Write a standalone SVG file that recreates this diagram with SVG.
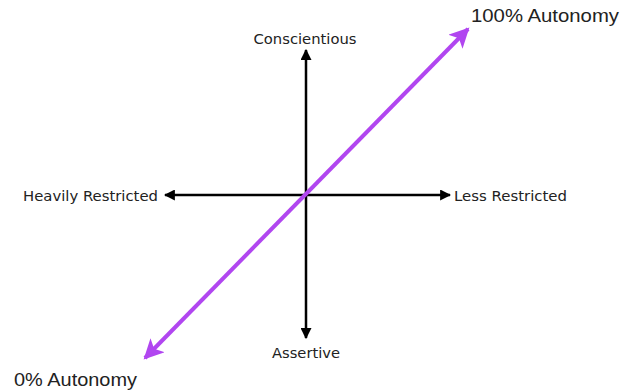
<svg xmlns="http://www.w3.org/2000/svg" width="631" height="392" viewBox="0 0 631 392">
<defs>
<style>
.ax{stroke:#000;stroke-width:2.5;fill:none}
.pu{stroke:#B146F0;stroke-width:4;fill:none}
.lb{font-family:"DejaVu Sans",Verdana,sans-serif;font-size:14px;fill:#222}
.au{font-family:"Liberation Sans",Arial,sans-serif;font-size:19px;fill:#222}
</style>
<marker id="ab" viewBox="0 0 10 10" refX="9" refY="5" markerWidth="4.6" markerHeight="4.4" markerUnits="strokeWidth" orient="auto-start-reverse"><path d="M0,0 L10,5 L0,10 z" fill="#000"/></marker>
<marker id="ap" viewBox="0 0 10 10" refX="9" refY="5" markerWidth="6" markerHeight="5" markerUnits="strokeWidth" orient="auto-start-reverse"><path d="M0,0 L10,5 L0,10 L2.5,5 z" fill="#B146F0"/></marker>
</defs>
<rect width="631" height="392" fill="#fff"/>
<g id="connectors">
<line class="ax" x1="306" y1="50" x2="306" y2="338" marker-start="url(#ab)" marker-end="url(#ab)"/>
<line class="ax" x1="165" y1="195" x2="450" y2="195" marker-start="url(#ab)" marker-end="url(#ab)"/>
<line class="pu" x1="145" y1="358" x2="468" y2="29" marker-start="url(#ap)" marker-end="url(#ap)"/>
</g>
<g id="conscientious"><text class="lb" x="305" y="44" text-anchor="middle" textLength="103" lengthAdjust="spacingAndGlyphs">Conscientious</text></g>
<g id="assertive"><text class="lb" x="306" y="358" text-anchor="middle" textLength="68" lengthAdjust="spacingAndGlyphs">Assertive</text></g>
<g id="heavily"><text class="lb" x="23" y="201" textLength="135" lengthAdjust="spacingAndGlyphs">Heavily Restricted</text></g>
<g id="less"><text class="lb" x="454" y="201" textLength="113" lengthAdjust="spacingAndGlyphs">Less Restricted</text></g>
<g id="auto100"><text class="au" x="471" y="22" textLength="148" lengthAdjust="spacingAndGlyphs">100% Autonomy</text></g>
<g id="auto0"><text class="au" x="14" y="386" textLength="123" lengthAdjust="spacingAndGlyphs">0% Autonomy</text></g>
</svg>
